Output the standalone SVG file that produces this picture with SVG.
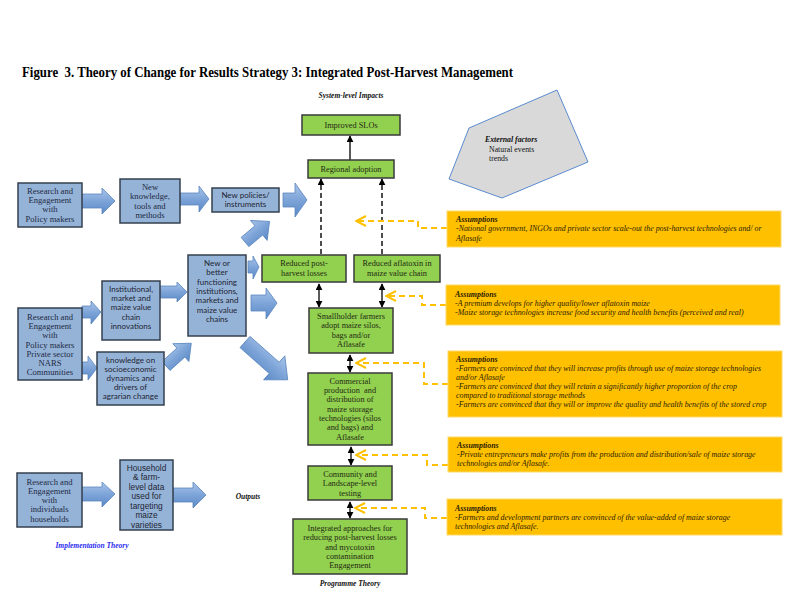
<svg xmlns="http://www.w3.org/2000/svg" width="800" height="600" viewBox="0 0 800 600">
<defs>
<linearGradient id="bg" x1="0" y1="0" x2="0" y2="1">
<stop offset="0" stop-color="#A9C5EA"/>
<stop offset="0.5" stop-color="#7DA4D8"/>
<stop offset="1" stop-color="#5B89C6"/>
</linearGradient>
<marker id="ah" viewBox="0 0 10 10" refX="9" refY="5" markerWidth="7" markerHeight="7" markerUnits="userSpaceOnUse" orient="auto-start-reverse">
<path d="M0,0 L10,5 L0,10 z" fill="#000"/>
</marker>
<marker id="oh" viewBox="0 0 12 12" refX="11" refY="6" markerWidth="12" markerHeight="12" markerUnits="userSpaceOnUse" orient="auto">
<path d="M1,1 L11,6 L1,11" fill="none" stroke="#FFC000" stroke-width="2"/>
</marker>
</defs>
<style>
.bb{fill:#95B3D7;stroke:#34404F;stroke-width:1.5}
.gb{fill:#92D050;stroke:#3A3A3A;stroke-width:1.5}
.ob{fill:#FFC000;stroke:#FFD966;stroke-width:1}
.ba{fill:url(#bg);stroke:#5A86BF;stroke-width:0.8}
.ser{font-family:"Liberation Serif","DejaVu Serif",serif;font-size:8.6px;fill:#1F2A44;text-anchor:middle}
.san{font-family:Lato,"Liberation Sans",sans-serif;font-size:8px;fill:#1E2533;text-anchor:middle}
.ari{font-family:"Liberation Sans",Arial,sans-serif;font-size:8.3px;fill:#1E2533;text-anchor:middle}
.gt{font-family:"Liberation Serif","DejaVu Serif",serif;font-size:8.3px;fill:#1F2A12;text-anchor:middle}
.at{font-family:"Liberation Serif","DejaVu Serif",serif;font-size:7.9px;font-style:italic;fill:#2A2000}
.ah{font-weight:bold}
.lab{font-family:"Liberation Serif","DejaVu Serif",serif;font-size:7.5px;font-style:italic;font-weight:bold;fill:#111;text-anchor:middle}
.solid{stroke:#000;stroke-width:1.3;fill:none}
.dash{stroke:#222;stroke-width:1.6;stroke-dasharray:5,3;fill:none}
.od{stroke:#FFC000;stroke-width:2;stroke-dasharray:6,4;fill:none}
</style>
<rect width="800" height="600" fill="#fff"/>

<text x="22" y="77" font-family="'Liberation Serif','DejaVu Serif',serif" font-size="14" font-weight="bold" fill="#000" textLength="491" lengthAdjust="spacingAndGlyphs" xml:space="preserve">Figure  3. Theory of Change for Results Strategy 3: Integrated Post-Harvest Management</text>
<text class="lab" x="351" y="98">System-level Impacts</text>
<text class="lab" x="350" y="586">Programme Theory</text>
<text class="lab" x="248" y="499">Outputs</text>
<text class="lab" x="92" y="548" style="fill:#2B2BEF">Implementation Theory</text>

<g id="external-factors">
<polygon points="557,90 588,162 502,198 449,179 469,128" fill="#D9D9D9" stroke="#5B8BD0" stroke-width="1"/>
<text class="at ah" x="485" y="142" style="font-size:7.8px;fill:#111">External factors</text>
<text class="at" x="489" y="152" style="font-style:normal;font-size:7.8px;fill:#111">Natural events</text>
<text class="at" x="489" y="161" style="font-style:normal;font-size:7.8px;fill:#111">trends</text>
</g>

<g id="block-arrows">
<polygon class="ba" points="82,194 102,194 102,188 115,201 102,214 102,208 82,208"/>
<polygon class="ba" points="180,193 199,193 199,186 209,199 199,212 199,205 180,205"/>
<polygon class="ba" points="283,193 295,193 295,183 307,200 295,217 295,207 283,207"/>
<polygon class="ba" points="0,-6 18,-6 18,-13 32,0 18,13 18,6 0,6" transform="translate(245,242) rotate(-40)"/>
<polygon class="ba" points="82,306 91,306 91,301 101,312 91,324 91,318 82,318"/>
<polygon class="ba" points="82,362 88,362 88,356 97,368 88,380 88,374 82,374"/>
<polygon class="ba" points="160,286 177,286 177,282 187,292 177,302 177,298 160,298"/>
<polygon class="ba" points="0,-6 20,-6 20,-12 34,0 20,12 20,6 0,6" transform="translate(166,366) rotate(-42)"/>
<polygon class="ba" points="248,261 253,261 253,256 259,267 253,279 253,273 248,273"/>
<polygon class="ba" points="251,295 266,295 266,288 277,303 266,319 266,311 251,311"/>
<polygon class="ba" points="0,-7.5 39,-7.5 39,-16 57,0 39,16 39,7.5 0,7.5" transform="translate(245,342) rotate(41.5)"/>
<polygon class="ba" points="82,487 102,487 102,482 115,494 102,507 102,501 82,501"/>
<polygon class="ba" points="173,488 193,488 193,482 206,495 193,508 193,502 173,502"/>
</g>

<g id="connectors">
<line class="solid" x1="350" y1="160" x2="350" y2="136" marker-end="url(#ah)"/>
<line class="dash" x1="321" y1="254" x2="321" y2="179" marker-end="url(#ah)"/>
<line class="dash" x1="382" y1="254" x2="382" y2="179" marker-end="url(#ah)"/>
<line class="solid" x1="319" y1="284" x2="319" y2="307" marker-start="url(#ah)" marker-end="url(#ah)"/>
<line class="solid" x1="382" y1="284" x2="382" y2="307" marker-start="url(#ah)" marker-end="url(#ah)"/>
<line class="solid" x1="350" y1="355" x2="350" y2="372" marker-start="url(#ah)" marker-end="url(#ah)"/>
<line class="solid" x1="351" y1="447" x2="351" y2="465" marker-start="url(#ah)" marker-end="url(#ah)"/>
<line class="solid" x1="350" y1="502" x2="350" y2="518" marker-start="url(#ah)" marker-end="url(#ah)"/>
<polyline class="od" points="447,228 418,228 418,221 356,221" marker-end="url(#oh)"/>
<polyline class="od" points="446,305 422,305 422,296 386,296" marker-end="url(#oh)"/>
<polyline class="od" points="448,384 424,384 424,363 356,363" marker-end="url(#oh)"/>
<polyline class="od" points="448,465 427,465 427,455 356,455" marker-end="url(#oh)"/>
<polyline class="od" points="447,518 425,518 425,508 355,508" marker-end="url(#oh)"/>
</g>

<g id="research-policy">
<rect class="bb" x="18" y="183" width="64" height="44"/>
<text class="ser" x="50" y="194">Research and</text>
<text class="ser" x="50" y="203">Engagement</text>
<text class="ser" x="50" y="212">with</text>
<text class="ser" x="50" y="222">Policy makers</text>
</g>
<g id="new-knowledge">
<rect class="bb" x="120" y="179" width="60" height="44"/>
<text class="ser" x="150" y="190">New</text>
<text class="ser" x="150" y="199">knowledge,</text>
<text class="ser" x="150" y="209">tools and</text>
<text class="ser" x="150" y="218">methods</text>
</g>
<g id="new-policies">
<rect class="bb" x="212" y="188" width="67" height="24"/>
<text class="san" x="245.5" y="198">New policies/</text>
<text class="san" x="245.5" y="207">instruments</text>
</g>
<g id="research-multi">
<rect class="bb" x="18" y="308" width="64" height="72"/>
<text class="ser" x="50" y="320">Research and</text>
<text class="ser" x="50" y="329">Engagement</text>
<text class="ser" x="50" y="338">with</text>
<text class="ser" x="50" y="348">Policy makers</text>
<text class="ser" x="50" y="357">Private sector</text>
<text class="ser" x="50" y="366">NARS</text>
<text class="ser" x="50" y="375">Communities</text>
</g>
<g id="institutional">
<rect class="bb" x="102" y="281" width="58" height="59"/>
<text class="san" x="131" y="292">Institutional,</text>
<text class="san" x="131" y="301">market and</text>
<text class="san" x="131" y="310">maize value</text>
<text class="san" x="131" y="320">chain</text>
<text class="san" x="131" y="329">innovations</text>
</g>
<g id="knowledge-socio">
<rect class="bb" x="97" y="352" width="67" height="53"/>
<text class="san" x="130.5" y="363">knowledge on</text>
<text class="san" x="130.5" y="372">socioeconomic</text>
<text class="san" x="130.5" y="381">dynamics and</text>
<text class="san" x="130.5" y="390">drivers of</text>
<text class="san" x="130.5" y="399">agrarian change</text>
</g>
<g id="new-institutions">
<rect class="bb" x="188" y="255" width="58" height="81"/>
<text class="san" x="217" y="266">New or</text>
<text class="san" x="217" y="275">better</text>
<text class="san" x="217" y="285">functioning</text>
<text class="san" x="217" y="294">institutions,</text>
<text class="san" x="217" y="303">markets and</text>
<text class="san" x="217" y="313">maize value</text>
<text class="san" x="217" y="322">chains</text>
</g>
<g id="research-households">
<rect class="bb" x="17" y="473" width="65" height="54"/>
<text class="ser" x="49.5" y="485">Research and</text>
<text class="ser" x="49.5" y="494">Engagement</text>
<text class="ser" x="49.5" y="503">with</text>
<text class="ser" x="49.5" y="512">individuals</text>
<text class="ser" x="49.5" y="522">households</text>
</g>
<g id="household-data">
<rect class="bb" x="120" y="460" width="53" height="70"/>
<text class="ari" x="146.5" y="471">Household</text>
<text class="ari" x="146.5" y="480">&amp; farm-</text>
<text class="ari" x="146.5" y="490">level data</text>
<text class="ari" x="146.5" y="499">used for</text>
<text class="ari" x="146.5" y="509">targeting</text>
<text class="ari" x="146.5" y="518">maize</text>
<text class="ari" x="146.5" y="528">varieties</text>
</g>

<g id="improved-slos">
<rect class="gb" x="302" y="115" width="98" height="20"/>
<text class="gt" x="351" y="128">Improved SLOs</text>
</g>
<g id="regional-adoption">
<rect class="gb" x="308" y="160" width="86" height="18"/>
<text class="gt" x="351" y="172">Regional adoption</text>
</g>
<g id="reduced-losses">
<rect class="gb" x="262" y="255" width="84" height="27"/>
<text class="gt" x="304" y="266">Reduced post-</text>
<text class="gt" x="304" y="276">harvest losses</text>
</g>
<g id="reduced-aflatoxin">
<rect class="gb" x="354" y="255" width="86" height="27"/>
<text class="gt" x="397" y="266">Reduced aflatoxin in</text>
<text class="gt" x="397" y="276">maize value chain</text>
</g>
<g id="smallholder">
<rect class="gb" x="309" y="308" width="84" height="45"/>
<text class="gt" x="351" y="319">Smallholder farmers</text>
<text class="gt" x="351" y="328">adopt maize silos,</text>
<text class="gt" x="351" y="338">bags and/or</text>
<text class="gt" x="351" y="347">Aflasafe</text>
</g>
<g id="commercial">
<rect class="gb" x="308" y="373" width="84" height="72"/>
<text class="gt" x="350" y="384">Commercial</text>
<text class="gt" x="350" y="393" xml:space="preserve">production  and</text>
<text class="gt" x="350" y="402">distribution of</text>
<text class="gt" x="350" y="412">maize storage</text>
<text class="gt" x="350" y="421">technologies (silos</text>
<text class="gt" x="350" y="430">and bags) and</text>
<text class="gt" x="350" y="440">Aflasafe</text>
</g>
<g id="community">
<rect class="gb" x="308" y="466" width="84" height="34"/>
<text class="gt" x="350" y="477">Community and</text>
<text class="gt" x="350" y="486">Landscape-level</text>
<text class="gt" x="350" y="496">testing</text>
</g>
<g id="integrated">
<rect class="gb" x="293" y="519" width="114" height="55"/>
<text class="gt" x="350" y="531">Integrated approaches for</text>
<text class="gt" x="350" y="540">reducing post-harvest losses</text>
<text class="gt" x="350" y="550">and mycotoxin</text>
<text class="gt" x="350" y="559">contamination</text>
<text class="gt" x="350" y="568">Engagement</text>
</g>

<g id="assumption-1">
<rect class="ob" x="447" y="211" width="334" height="36"/>
<text class="at ah" x="456" y="222">Assumptions</text>
<text class="at" x="456" y="231">-National government, INGOs and private sector scale-out the post-harvest technologies and/ or</text>
<text class="at" x="456" y="241">Aflasafe</text>
</g>
<g id="assumption-2">
<rect class="ob" x="446" y="285" width="334" height="40"/>
<text class="at ah" x="455" y="297">Assumptions</text>
<text class="at" x="455" y="306">-A premium develops for higher quality/lower aflatoxin maize</text>
<text class="at" x="455" y="315">-Maize storage technologies increase food security and health benefits (perceived and real)</text>
</g>
<g id="assumption-3">
<rect class="ob" x="448" y="351" width="334" height="66"/>
<text class="at ah" x="456" y="362">Assumptions</text>
<text class="at" x="456" y="371">-Farmers are convinced that they will increase profits through use of maize storage technologies</text>
<text class="at" x="456" y="380">and/or Aflasafe</text>
<text class="at" x="456" y="389">-Farmers are convinced that they will retain a significantly higher proportion of the crop</text>
<text class="at" x="456" y="398">compared to traditional storage methods</text>
<text class="at" x="456" y="407">-Farmers are convinced that they will or improve the quality and health benefits of the stored crop</text>
</g>
<g id="assumption-4">
<rect class="ob" x="448" y="437" width="334" height="35"/>
<text class="at ah" x="457" y="448">Assumptions</text>
<text class="at" x="457" y="457">-Private entrepreneurs make profits from the production and distribution/sale of maize storage</text>
<text class="at" x="457" y="466">technologies and/or Aflasafe.</text>
</g>
<g id="assumption-5">
<rect class="ob" x="447" y="499" width="335" height="36"/>
<text class="at ah" x="455" y="511">Assumptions</text>
<text class="at" x="455" y="520">-Farmers and development partners are convinced of the value-added of maize storage</text>
<text class="at" x="455" y="529">technologies and Aflasafe.</text>
</g>
</svg>
